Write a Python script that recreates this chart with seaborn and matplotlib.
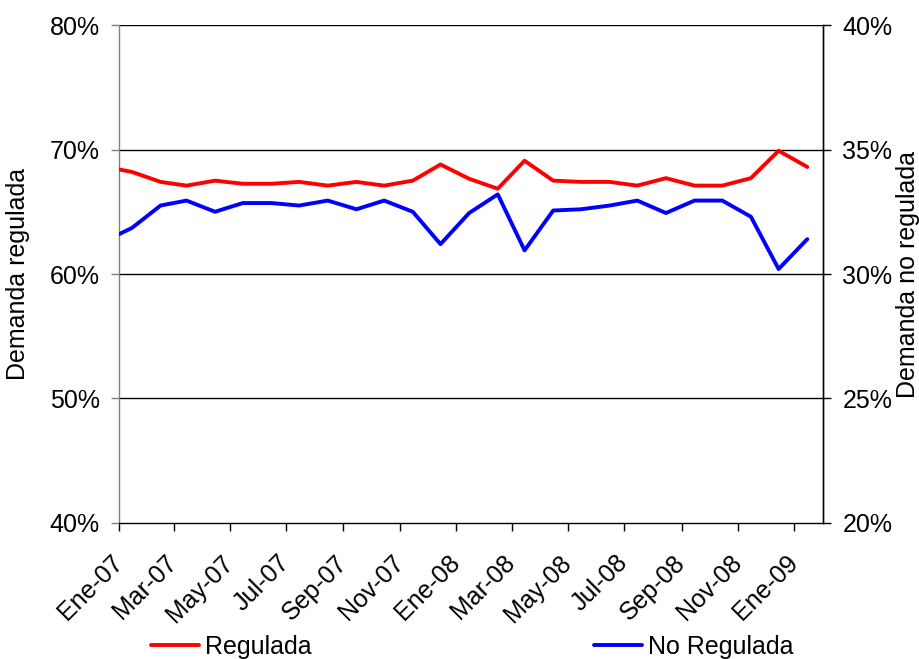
import matplotlib
matplotlib.use("Agg")
import matplotlib.pyplot as plt
import matplotlib.dates as mdates
from matplotlib.ticker import FuncFormatter
from matplotlib.lines import Line2D
import seaborn as sns
import pandas as pd

# Monthly share of demand (%), regulated vs. non-regulated clients
fechas = [
    "2007-01-01", "2007-01-15", "2007-02-15", "2007-03-15", "2007-04-15",
    "2007-05-15", "2007-06-15", "2007-07-15", "2007-08-15", "2007-09-15",
    "2007-10-15", "2007-11-15", "2007-12-15", "2008-01-15", "2008-02-15",
    "2008-03-15", "2008-04-15", "2008-05-15", "2008-06-15", "2008-07-15",
    "2008-08-15", "2008-09-15", "2008-10-15", "2008-11-15", "2008-12-15",
    "2009-01-15",
]
regulada = [68.4, 68.2, 67.4, 67.1, 67.5, 67.25, 67.25, 67.4, 67.1, 67.4,
            67.1, 67.5, 68.8, 67.65, 66.85, 69.1, 67.5, 67.4, 67.4, 67.1,
            67.7, 67.1, 67.1, 67.7, 69.9, 68.6]
no_regulada = [31.6, 31.85, 32.75, 32.95, 32.5, 32.85, 32.85, 32.75, 32.95, 32.6,
               32.95, 32.5, 31.2, 32.45, 33.2, 30.95, 32.55, 32.6, 32.75, 32.95,
               32.45, 32.95, 32.95, 32.3, 30.2, 31.4]

ticks_izq = [40, 50, 60, 70, 80]
ticks_der = [20, 25, 30, 35, 40]
meses = ["Ene", "Feb", "Mar", "Abr", "May", "Jun",
         "Jul", "Ago", "Sep", "Oct", "Nov", "Dic"]

df = pd.DataFrame({
    "fecha": pd.to_datetime(fechas),
    "Regulada": regulada,
    "No Regulada": no_regulada,
})

sns.set_style("white")
plt.rcParams["font.family"] = ["Liberation Sans", "DejaVu Sans"]
plt.rcParams["font.size"] = 18
plt.rcParams["text.color"] = "#000000"
plt.rcParams["axes.labelcolor"] = "#000000"

fig = plt.figure(figsize=(9.19, 6.59), dpi=100)
ax = fig.add_axes([0.1295, 0.2064, 0.7660, 0.7556])
ax2 = ax.twinx()

sns.lineplot(data=df, x="fecha", y="Regulada", ax=ax, color="#ff0000",
             linewidth=2.8, zorder=3)
sns.lineplot(data=df, x="fecha", y="No Regulada", ax=ax2, color="#0000ff",
             linewidth=2.8, zorder=3)

pct = FuncFormatter(lambda v, _: f"{v:.0f}%")

ax.set_ylim(40, 80)
ax.set_yticks(ticks_izq)
ax.yaxis.set_major_formatter(pct)
ax2.set_ylim(20, 40)
ax2.set_yticks(ticks_der)
ax2.yaxis.set_major_formatter(pct)


def etiqueta_mes(v, _):
    d = mdates.num2date(v)
    return f"{meses[d.month - 1]}-{d.year % 100:02d}"


ax.set_xlim(pd.Timestamp("2007-01-01"), pd.Timestamp("2009-02-01"))
ax.xaxis.set_major_locator(mdates.MonthLocator(bymonth=[1, 3, 5, 7, 9, 11]))
ax.xaxis.set_major_formatter(FuncFormatter(etiqueta_mes))

for lab in ax.get_xticklabels():
    lab.set_rotation(45)
    lab.set_ha("right")
    lab.set_va("center")
    lab.set_rotation_mode("anchor")

ax.grid(False)
ax2.grid(False)
for v in ticks_izq[1:]:
    ax.axhline(v, color="#000000", linewidth=1.0, zorder=1)

ax.set_xlabel("")
ax.set_ylabel("Demanda regulada", fontsize=18, labelpad=14)
ax2.set_ylabel("Demanda no regulada", fontsize=18)
ax2.yaxis.set_label_coords(1.1037, 0.5)

ax.spines["top"].set_visible(False)
ax2.spines["top"].set_visible(False)
ax.spines["left"].set_color("#808080")
ax.spines["bottom"].set_color("#000000")
ax2.spines["right"].set_color("#000000")
ax2.spines["left"].set_visible(False)
ax2.spines["bottom"].set_visible(False)
for sp in ax.spines.values():
    sp.set_linewidth(1.0)
ax2.spines["right"].set_linewidth(1.0)

ax.tick_params(axis="y", which="major", direction="out", length=6, width=1,
               color="#808080", labelcolor="#000000", pad=8, labelsize=18,
               left=True)
ax.tick_params(axis="x", which="major", direction="out", length=6, width=1,
               color="#000000", labelcolor="#000000", pad=20, labelsize=18,
               bottom=True)
ax2.tick_params(axis="y", which="major", direction="out", length=6, width=1,
                color="#000000", labelcolor="#000000", pad=8, labelsize=18,
                right=True)

handles = [Line2D([], [], color="#ff0000", linewidth=2.8),
           Line2D([], [], color="#0000ff", linewidth=2.8)]
fig.legend(handles, ["Regulada", "No Regulada"], loc="center",
           bbox_to_anchor=(0.514, 0.018), ncol=2, frameon=False,
           handlelength=1.9, handletextpad=0.25, columnspacing=11.3,
           fontsize=18)

fig.savefig("out.png", dpi=100)
